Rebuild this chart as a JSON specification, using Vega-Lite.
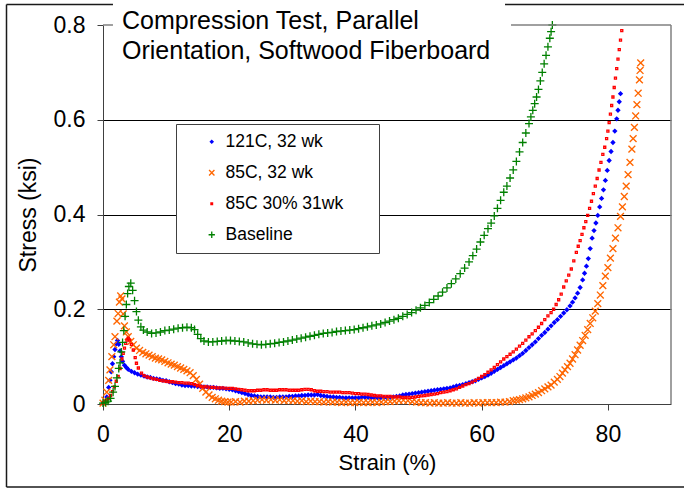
{
  "$schema": "https://vega.github.io/schema/vega-lite/v6.json",
  "width": 568,
  "height": 379,
  "autosize": {"type": "none"},
  "padding": {"left": 103, "top": 25, "right": 13, "bottom": 85},
  "background": "white",
  "config": {"view": {"stroke": null}, "font": "Liberation Sans"},
  "title": {
    "text": ["Compression Test, Parallel", "Orientation, Softwood Fiberboard"],
    "anchor": "start", "frame": "group", "orient": "top", "baseline": "top",
    "offset": -60, "dx": 19, "fontSize": 25, "font": "Liberation Sans",
    "fontWeight": "normal", "color": "black", "lineHeight": 30
  },
  "layer": [
    {
      "data": {"values": [
        {"series":"121C, 32 wk","strain":0,"stress":0.002},{"series":"121C, 32 wk","strain":0.3,"stress":0.005},{"series":"121C, 32 wk","strain":0.6,"stress":0.015},{"series":"121C, 32 wk","strain":0.9,"stress":0.035},{"series":"121C, 32 wk","strain":1.1,"stress":0.05},{"series":"121C, 32 wk","strain":1.3,"stress":0.068},{"series":"121C, 32 wk","strain":1.5,"stress":0.085},{"series":"121C, 32 wk","strain":1.7,"stress":0.1},{"series":"121C, 32 wk","strain":1.9,"stress":0.115},{"series":"121C, 32 wk","strain":2.1,"stress":0.127},{"series":"121C, 32 wk","strain":2.3,"stress":0.134},{"series":"121C, 32 wk","strain":2.5,"stress":0.126},{"series":"121C, 32 wk","strain":2.7,"stress":0.112},{"series":"121C, 32 wk","strain":2.9,"stress":0.1},{"series":"121C, 32 wk","strain":3.1,"stress":0.09},{"series":"121C, 32 wk","strain":3.4,"stress":0.082},{"series":"121C, 32 wk","strain":3.7,"stress":0.077},{"series":"121C, 32 wk","strain":4.0,"stress":0.073},
        {"series":"121C, 32 wk","strain":4.5,"stress":0.069},{"series":"121C, 32 wk","strain":5.0,"stress":0.066},{"series":"121C, 32 wk","strain":5.5,"stress":0.063},{"series":"121C, 32 wk","strain":6.0,"stress":0.061},{"series":"121C, 32 wk","strain":6.5,"stress":0.059},{"series":"121C, 32 wk","strain":7.0,"stress":0.057},{"series":"121C, 32 wk","strain":7.5,"stress":0.056},{"series":"121C, 32 wk","strain":8.0,"stress":0.054},{"series":"121C, 32 wk","strain":8.5,"stress":0.053},{"series":"121C, 32 wk","strain":9.0,"stress":0.052},{"series":"121C, 32 wk","strain":9.5,"stress":0.05},{"series":"121C, 32 wk","strain":10.0,"stress":0.049},{"series":"121C, 32 wk","strain":10.5,"stress":0.047},{"series":"121C, 32 wk","strain":11.0,"stress":0.045},{"series":"121C, 32 wk","strain":11.5,"stress":0.043},{"series":"121C, 32 wk","strain":12.0,"stress":0.042},{"series":"121C, 32 wk","strain":12.5,"stress":0.04},{"series":"121C, 32 wk","strain":13.0,"stress":0.039},{"series":"121C, 32 wk","strain":13.5,"stress":0.039},{"series":"121C, 32 wk","strain":14.0,"stress":0.038},{"series":"121C, 32 wk","strain":14.5,"stress":0.038},{"series":"121C, 32 wk","strain":15.0,"stress":0.037},{"series":"121C, 32 wk","strain":15.5,"stress":0.037},{"series":"121C, 32 wk","strain":16.0,"stress":0.036},{"series":"121C, 32 wk","strain":16.5,"stress":0.036},{"series":"121C, 32 wk","strain":17.0,"stress":0.035},{"series":"121C, 32 wk","strain":17.5,"stress":0.035},{"series":"121C, 32 wk","strain":18.0,"stress":0.034},{"series":"121C, 32 wk","strain":18.5,"stress":0.033},{"series":"121C, 32 wk","strain":19.0,"stress":0.033},{"series":"121C, 32 wk","strain":19.5,"stress":0.032},{"series":"121C, 32 wk","strain":20.0,"stress":0.031},
        {"series":"121C, 32 wk","strain":20.5,"stress":0.03},{"series":"121C, 32 wk","strain":21.0,"stress":0.028},{"series":"121C, 32 wk","strain":21.5,"stress":0.026},{"series":"121C, 32 wk","strain":22.0,"stress":0.024},{"series":"121C, 32 wk","strain":22.5,"stress":0.022},{"series":"121C, 32 wk","strain":23.0,"stress":0.02},{"series":"121C, 32 wk","strain":23.5,"stress":0.018},{"series":"121C, 32 wk","strain":24.0,"stress":0.017},{"series":"121C, 32 wk","strain":24.5,"stress":0.016},{"series":"121C, 32 wk","strain":25.0,"stress":0.015},{"series":"121C, 32 wk","strain":25.5,"stress":0.015},{"series":"121C, 32 wk","strain":26.0,"stress":0.015},{"series":"121C, 32 wk","strain":26.5,"stress":0.015},{"series":"121C, 32 wk","strain":27.0,"stress":0.014},{"series":"121C, 32 wk","strain":27.5,"stress":0.014},{"series":"121C, 32 wk","strain":28.0,"stress":0.015},{"series":"121C, 32 wk","strain":28.5,"stress":0.015},{"series":"121C, 32 wk","strain":29.0,"stress":0.015},{"series":"121C, 32 wk","strain":29.5,"stress":0.016},{"series":"121C, 32 wk","strain":30.0,"stress":0.016},{"series":"121C, 32 wk","strain":30.5,"stress":0.017},{"series":"121C, 32 wk","strain":31.0,"stress":0.017},{"series":"121C, 32 wk","strain":31.5,"stress":0.018},{"series":"121C, 32 wk","strain":32.0,"stress":0.018},{"series":"121C, 32 wk","strain":32.5,"stress":0.019},{"series":"121C, 32 wk","strain":33.0,"stress":0.019},{"series":"121C, 32 wk","strain":33.5,"stress":0.019},{"series":"121C, 32 wk","strain":34.0,"stress":0.02},{"series":"121C, 32 wk","strain":34.5,"stress":0.018},{"series":"121C, 32 wk","strain":35.0,"stress":0.017},{"series":"121C, 32 wk","strain":35.5,"stress":0.016},{"series":"121C, 32 wk","strain":36.0,"stress":0.015},{"series":"121C, 32 wk","strain":36.5,"stress":0.015},{"series":"121C, 32 wk","strain":37.0,"stress":0.014},{"series":"121C, 32 wk","strain":37.5,"stress":0.014},{"series":"121C, 32 wk","strain":38.0,"stress":0.013},{"series":"121C, 32 wk","strain":38.5,"stress":0.013},{"series":"121C, 32 wk","strain":39.0,"stress":0.013},{"series":"121C, 32 wk","strain":39.5,"stress":0.013},{"series":"121C, 32 wk","strain":40.0,"stress":0.013},
        {"series":"121C, 32 wk","strain":40.5,"stress":0.013},{"series":"121C, 32 wk","strain":41.0,"stress":0.014},{"series":"121C, 32 wk","strain":41.5,"stress":0.014},{"series":"121C, 32 wk","strain":42.0,"stress":0.014},{"series":"121C, 32 wk","strain":42.5,"stress":0.013},{"series":"121C, 32 wk","strain":43.0,"stress":0.013},{"series":"121C, 32 wk","strain":43.5,"stress":0.013},{"series":"121C, 32 wk","strain":44.0,"stress":0.013},{"series":"121C, 32 wk","strain":44.5,"stress":0.013},{"series":"121C, 32 wk","strain":45.0,"stress":0.013},{"series":"121C, 32 wk","strain":45.5,"stress":0.014},{"series":"121C, 32 wk","strain":46.0,"stress":0.015},{"series":"121C, 32 wk","strain":46.5,"stress":0.016},{"series":"121C, 32 wk","strain":47.0,"stress":0.017},{"series":"121C, 32 wk","strain":47.5,"stress":0.019},{"series":"121C, 32 wk","strain":48.0,"stress":0.02},{"series":"121C, 32 wk","strain":48.5,"stress":0.021},{"series":"121C, 32 wk","strain":49.0,"stress":0.022},{"series":"121C, 32 wk","strain":49.5,"stress":0.023},{"series":"121C, 32 wk","strain":50.0,"stress":0.024},{"series":"121C, 32 wk","strain":50.5,"stress":0.025},{"series":"121C, 32 wk","strain":51.0,"stress":0.026},{"series":"121C, 32 wk","strain":51.5,"stress":0.027},{"series":"121C, 32 wk","strain":52.0,"stress":0.028},{"series":"121C, 32 wk","strain":52.5,"stress":0.029},{"series":"121C, 32 wk","strain":53.0,"stress":0.03},{"series":"121C, 32 wk","strain":53.5,"stress":0.031},{"series":"121C, 32 wk","strain":54.0,"stress":0.032},{"series":"121C, 32 wk","strain":54.5,"stress":0.033},{"series":"121C, 32 wk","strain":55.0,"stress":0.034},{"series":"121C, 32 wk","strain":55.5,"stress":0.036},{"series":"121C, 32 wk","strain":56.0,"stress":0.038},{"series":"121C, 32 wk","strain":56.5,"stress":0.039},{"series":"121C, 32 wk","strain":57.0,"stress":0.041},{"series":"121C, 32 wk","strain":57.5,"stress":0.043},{"series":"121C, 32 wk","strain":58.0,"stress":0.045},{"series":"121C, 32 wk","strain":58.5,"stress":0.047},{"series":"121C, 32 wk","strain":59.0,"stress":0.049},{"series":"121C, 32 wk","strain":59.5,"stress":0.052},{"series":"121C, 32 wk","strain":60.0,"stress":0.055},
        {"series":"121C, 32 wk","strain":60.5,"stress":0.058},{"series":"121C, 32 wk","strain":61.0,"stress":0.061},{"series":"121C, 32 wk","strain":61.5,"stress":0.065},{"series":"121C, 32 wk","strain":62.0,"stress":0.069},{"series":"121C, 32 wk","strain":62.5,"stress":0.073},{"series":"121C, 32 wk","strain":63.0,"stress":0.077},{"series":"121C, 32 wk","strain":63.5,"stress":0.081},{"series":"121C, 32 wk","strain":64.0,"stress":0.085},{"series":"121C, 32 wk","strain":64.5,"stress":0.089},{"series":"121C, 32 wk","strain":65.0,"stress":0.093},{"series":"121C, 32 wk","strain":65.5,"stress":0.097},{"series":"121C, 32 wk","strain":66.0,"stress":0.102},{"series":"121C, 32 wk","strain":66.5,"stress":0.107},{"series":"121C, 32 wk","strain":67.0,"stress":0.113},{"series":"121C, 32 wk","strain":67.5,"stress":0.119},{"series":"121C, 32 wk","strain":68.0,"stress":0.125},{"series":"121C, 32 wk","strain":68.5,"stress":0.131},{"series":"121C, 32 wk","strain":69.0,"stress":0.138},{"series":"121C, 32 wk","strain":69.5,"stress":0.145},{"series":"121C, 32 wk","strain":70.0,"stress":0.151},{"series":"121C, 32 wk","strain":70.5,"stress":0.158},{"series":"121C, 32 wk","strain":71.0,"stress":0.165},{"series":"121C, 32 wk","strain":71.5,"stress":0.172},{"series":"121C, 32 wk","strain":72.0,"stress":0.178},{"series":"121C, 32 wk","strain":72.5,"stress":0.185},{"series":"121C, 32 wk","strain":73.0,"stress":0.192},{"series":"121C, 32 wk","strain":73.5,"stress":0.199},{"series":"121C, 32 wk","strain":74.0,"stress":0.207},{"series":"121C, 32 wk","strain":74.4,"stress":0.215},{"series":"121C, 32 wk","strain":74.8,"stress":0.224},{"series":"121C, 32 wk","strain":75.2,"stress":0.234},{"series":"121C, 32 wk","strain":75.6,"stress":0.246},{"series":"121C, 32 wk","strain":76.0,"stress":0.262},{"series":"121C, 32 wk","strain":76.3,"stress":0.276},{"series":"121C, 32 wk","strain":76.6,"stress":0.291},{"series":"121C, 32 wk","strain":76.9,"stress":0.307},{"series":"121C, 32 wk","strain":77.2,"stress":0.328},{"series":"121C, 32 wk","strain":77.5,"stress":0.35},{"series":"121C, 32 wk","strain":77.8,"stress":0.366},{"series":"121C, 32 wk","strain":78.1,"stress":0.382},{"series":"121C, 32 wk","strain":78.4,"stress":0.398},{"series":"121C, 32 wk","strain":78.7,"stress":0.416},{"series":"121C, 32 wk","strain":79.0,"stress":0.434},{"series":"121C, 32 wk","strain":79.3,"stress":0.452},{"series":"121C, 32 wk","strain":79.6,"stress":0.472},{"series":"121C, 32 wk","strain":79.9,"stress":0.493},{"series":"121C, 32 wk","strain":80.2,"stress":0.514},{"series":"121C, 32 wk","strain":80.5,"stress":0.533},{"series":"121C, 32 wk","strain":80.8,"stress":0.552},{"series":"121C, 32 wk","strain":81.1,"stress":0.576},{"series":"121C, 32 wk","strain":81.4,"stress":0.602},{"series":"121C, 32 wk","strain":81.6,"stress":0.62},{"series":"121C, 32 wk","strain":81.8,"stress":0.638},{"series":"121C, 32 wk","strain":82.0,"stress":0.655},

        {"series":"85C, 32 wk","strain":0,"stress":0.002},{"series":"85C, 32 wk","strain":0.3,"stress":0.008},{"series":"85C, 32 wk","strain":0.6,"stress":0.025},{"series":"85C, 32 wk","strain":0.9,"stress":0.05},{"series":"85C, 32 wk","strain":1.1,"stress":0.072},{"series":"85C, 32 wk","strain":1.4,"stress":0.1},{"series":"85C, 32 wk","strain":1.7,"stress":0.125},{"series":"85C, 32 wk","strain":1.9,"stress":0.142},{"series":"85C, 32 wk","strain":2.2,"stress":0.175},{"series":"85C, 32 wk","strain":2.4,"stress":0.191},{"series":"85C, 32 wk","strain":2.6,"stress":0.215},{"series":"85C, 32 wk","strain":2.8,"stress":0.228},{"series":"85C, 32 wk","strain":3.0,"stress":0.222},{"series":"85C, 32 wk","strain":3.2,"stress":0.19},{"series":"85C, 32 wk","strain":3.4,"stress":0.165},{"series":"85C, 32 wk","strain":3.7,"stress":0.152},{"series":"85C, 32 wk","strain":4.0,"stress":0.142},{"series":"85C, 32 wk","strain":4.4,"stress":0.132},{"series":"85C, 32 wk","strain":4.8,"stress":0.125},{"series":"85C, 32 wk","strain":5.3,"stress":0.118},{"series":"85C, 32 wk","strain":5.8,"stress":0.113},{"series":"85C, 32 wk","strain":6.3,"stress":0.109},{"series":"85C, 32 wk","strain":6.8,"stress":0.106},{"series":"85C, 32 wk","strain":7.3,"stress":0.103},{"series":"85C, 32 wk","strain":7.8,"stress":0.1},{"series":"85C, 32 wk","strain":8.3,"stress":0.097},{"series":"85C, 32 wk","strain":8.8,"stress":0.095},{"series":"85C, 32 wk","strain":9.3,"stress":0.093},{"series":"85C, 32 wk","strain":9.8,"stress":0.09},{"series":"85C, 32 wk","strain":10.3,"stress":0.087},{"series":"85C, 32 wk","strain":10.8,"stress":0.084},{"series":"85C, 32 wk","strain":11.3,"stress":0.082},{"series":"85C, 32 wk","strain":11.8,"stress":0.079},{"series":"85C, 32 wk","strain":12.3,"stress":0.076},{"series":"85C, 32 wk","strain":12.8,"stress":0.073},{"series":"85C, 32 wk","strain":13.3,"stress":0.07},{"series":"85C, 32 wk","strain":13.8,"stress":0.066},{"series":"85C, 32 wk","strain":14.3,"stress":0.06},{"series":"85C, 32 wk","strain":14.8,"stress":0.052},{"series":"85C, 32 wk","strain":15.3,"stress":0.042},{"series":"85C, 32 wk","strain":15.8,"stress":0.033},{"series":"85C, 32 wk","strain":16.3,"stress":0.025},{"series":"85C, 32 wk","strain":16.8,"stress":0.019},{"series":"85C, 32 wk","strain":17.3,"stress":0.014},{"series":"85C, 32 wk","strain":17.8,"stress":0.011},{"series":"85C, 32 wk","strain":18.3,"stress":0.008},{"series":"85C, 32 wk","strain":18.8,"stress":0.006},{"series":"85C, 32 wk","strain":19.3,"stress":0.005},{"series":"85C, 32 wk","strain":19.8,"stress":0.004},
        {"series":"85C, 32 wk","strain":20.3,"stress":0.004},{"series":"85C, 32 wk","strain":21.0,"stress":0.005},{"series":"85C, 32 wk","strain":21.7,"stress":0.004},{"series":"85C, 32 wk","strain":22.4,"stress":0.006},{"series":"85C, 32 wk","strain":23.1,"stress":0.006},{"series":"85C, 32 wk","strain":23.8,"stress":0.007},{"series":"85C, 32 wk","strain":24.5,"stress":0.008},{"series":"85C, 32 wk","strain":25.2,"stress":0.009},{"series":"85C, 32 wk","strain":25.9,"stress":0.008},{"series":"85C, 32 wk","strain":26.6,"stress":0.009},{"series":"85C, 32 wk","strain":27.3,"stress":0.008},{"series":"85C, 32 wk","strain":28.0,"stress":0.009},{"series":"85C, 32 wk","strain":28.7,"stress":0.007},{"series":"85C, 32 wk","strain":29.4,"stress":0.008},{"series":"85C, 32 wk","strain":30.1,"stress":0.007},{"series":"85C, 32 wk","strain":30.8,"stress":0.006},{"series":"85C, 32 wk","strain":31.5,"stress":0.007},{"series":"85C, 32 wk","strain":32.2,"stress":0.005},{"series":"85C, 32 wk","strain":32.9,"stress":0.006},{"series":"85C, 32 wk","strain":33.6,"stress":0.005},{"series":"85C, 32 wk","strain":34.3,"stress":0.005},{"series":"85C, 32 wk","strain":35.0,"stress":0.004},{"series":"85C, 32 wk","strain":35.7,"stress":0.005},{"series":"85C, 32 wk","strain":36.4,"stress":0.004},{"series":"85C, 32 wk","strain":37.1,"stress":0.004},{"series":"85C, 32 wk","strain":37.8,"stress":0.003},{"series":"85C, 32 wk","strain":38.5,"stress":0.004},{"series":"85C, 32 wk","strain":39.2,"stress":0.003},{"series":"85C, 32 wk","strain":39.9,"stress":0.003},{"series":"85C, 32 wk","strain":40.6,"stress":0.004},{"series":"85C, 32 wk","strain":41.3,"stress":0.003},{"series":"85C, 32 wk","strain":42.0,"stress":0.003},{"series":"85C, 32 wk","strain":42.7,"stress":0.004},{"series":"85C, 32 wk","strain":43.4,"stress":0.003},{"series":"85C, 32 wk","strain":44.1,"stress":0.004},{"series":"85C, 32 wk","strain":44.8,"stress":0.005},{"series":"85C, 32 wk","strain":45.5,"stress":0.005},{"series":"85C, 32 wk","strain":46.2,"stress":0.006},{"series":"85C, 32 wk","strain":46.9,"stress":0.007},{"series":"85C, 32 wk","strain":47.6,"stress":0.008},{"series":"85C, 32 wk","strain":48.3,"stress":0.007},{"series":"85C, 32 wk","strain":49.0,"stress":0.005},{"series":"85C, 32 wk","strain":49.7,"stress":0.004},{"series":"85C, 32 wk","strain":50.4,"stress":0.003},{"series":"85C, 32 wk","strain":51.1,"stress":0.003},{"series":"85C, 32 wk","strain":51.8,"stress":0.002},{"series":"85C, 32 wk","strain":52.5,"stress":0.003},{"series":"85C, 32 wk","strain":53.2,"stress":0.002},{"series":"85C, 32 wk","strain":53.9,"stress":0.002},{"series":"85C, 32 wk","strain":54.6,"stress":0.003},{"series":"85C, 32 wk","strain":55.3,"stress":0.002},{"series":"85C, 32 wk","strain":56.0,"stress":0.002},{"series":"85C, 32 wk","strain":56.7,"stress":0.003},{"series":"85C, 32 wk","strain":57.4,"stress":0.002},{"series":"85C, 32 wk","strain":58.1,"stress":0.002},{"series":"85C, 32 wk","strain":58.8,"stress":0.003},{"series":"85C, 32 wk","strain":59.5,"stress":0.002},{"series":"85C, 32 wk","strain":60.2,"stress":0.003},{"series":"85C, 32 wk","strain":60.9,"stress":0.003},{"series":"85C, 32 wk","strain":61.6,"stress":0.003},{"series":"85C, 32 wk","strain":62.3,"stress":0.003},{"series":"85C, 32 wk","strain":63.0,"stress":0.004},{"series":"85C, 32 wk","strain":63.7,"stress":0.004},{"series":"85C, 32 wk","strain":64.4,"stress":0.005},
        {"series":"85C, 32 wk","strain":65.0,"stress":0.007},{"series":"85C, 32 wk","strain":65.5,"stress":0.008},{"series":"85C, 32 wk","strain":66.0,"stress":0.009},{"series":"85C, 32 wk","strain":66.5,"stress":0.011},{"series":"85C, 32 wk","strain":67.0,"stress":0.013},{"series":"85C, 32 wk","strain":67.5,"stress":0.015},{"series":"85C, 32 wk","strain":68.0,"stress":0.018},{"series":"85C, 32 wk","strain":68.5,"stress":0.021},{"series":"85C, 32 wk","strain":69.0,"stress":0.024},{"series":"85C, 32 wk","strain":69.5,"stress":0.028},{"series":"85C, 32 wk","strain":70.0,"stress":0.032},{"series":"85C, 32 wk","strain":70.5,"stress":0.036},{"series":"85C, 32 wk","strain":71.0,"stress":0.04},{"series":"85C, 32 wk","strain":71.5,"stress":0.046},{"series":"85C, 32 wk","strain":72.0,"stress":0.052},{"series":"85C, 32 wk","strain":72.4,"stress":0.058},{"series":"85C, 32 wk","strain":72.8,"stress":0.065},{"series":"85C, 32 wk","strain":73.2,"stress":0.072},{"series":"85C, 32 wk","strain":73.6,"stress":0.079},{"series":"85C, 32 wk","strain":74.0,"stress":0.086},{"series":"85C, 32 wk","strain":74.4,"stress":0.095},{"series":"85C, 32 wk","strain":74.8,"stress":0.104},{"series":"85C, 32 wk","strain":75.2,"stress":0.114},{"series":"85C, 32 wk","strain":75.6,"stress":0.124},{"series":"85C, 32 wk","strain":76.0,"stress":0.134},{"series":"85C, 32 wk","strain":76.4,"stress":0.145},{"series":"85C, 32 wk","strain":76.8,"stress":0.157},{"series":"85C, 32 wk","strain":77.2,"stress":0.17},{"series":"85C, 32 wk","strain":77.6,"stress":0.182},{"series":"85C, 32 wk","strain":78.0,"stress":0.196},{"series":"85C, 32 wk","strain":78.4,"stress":0.212},{"series":"85C, 32 wk","strain":78.8,"stress":0.23},{"series":"85C, 32 wk","strain":79.2,"stress":0.25},{"series":"85C, 32 wk","strain":79.6,"stress":0.27},{"series":"85C, 32 wk","strain":80.0,"stress":0.288},{"series":"85C, 32 wk","strain":80.4,"stress":0.308},{"series":"85C, 32 wk","strain":80.8,"stress":0.328},{"series":"85C, 32 wk","strain":81.2,"stress":0.35},{"series":"85C, 32 wk","strain":81.6,"stress":0.372},{"series":"85C, 32 wk","strain":82.0,"stress":0.396},{"series":"85C, 32 wk","strain":82.3,"stress":0.416},{"series":"85C, 32 wk","strain":82.6,"stress":0.438},{"series":"85C, 32 wk","strain":82.9,"stress":0.46},{"series":"85C, 32 wk","strain":83.2,"stress":0.484},{"series":"85C, 32 wk","strain":83.5,"stress":0.51},{"series":"85C, 32 wk","strain":83.8,"stress":0.538},{"series":"85C, 32 wk","strain":84.0,"stress":0.56},{"series":"85C, 32 wk","strain":84.2,"stress":0.584},{"series":"85C, 32 wk","strain":84.4,"stress":0.608},{"series":"85C, 32 wk","strain":84.6,"stress":0.632},{"series":"85C, 32 wk","strain":84.8,"stress":0.656},{"series":"85C, 32 wk","strain":85.0,"stress":0.684},{"series":"85C, 32 wk","strain":85.1,"stress":0.704},{"series":"85C, 32 wk","strain":85.2,"stress":0.72},

        {"series":"85C 30% 31wk","strain":0,"stress":0.002},{"series":"85C 30% 31wk","strain":0.3,"stress":0.005},{"series":"85C 30% 31wk","strain":0.6,"stress":0.008},{"series":"85C 30% 31wk","strain":0.9,"stress":0.012},{"series":"85C 30% 31wk","strain":1.2,"stress":0.018},{"series":"85C 30% 31wk","strain":1.5,"stress":0.026},{"series":"85C 30% 31wk","strain":1.8,"stress":0.036},{"series":"85C 30% 31wk","strain":2.1,"stress":0.048},{"series":"85C 30% 31wk","strain":2.4,"stress":0.058},{"series":"85C 30% 31wk","strain":2.7,"stress":0.075},{"series":"85C 30% 31wk","strain":3.0,"stress":0.095},{"series":"85C 30% 31wk","strain":3.2,"stress":0.107},{"series":"85C 30% 31wk","strain":3.4,"stress":0.118},{"series":"85C 30% 31wk","strain":3.6,"stress":0.128},{"series":"85C 30% 31wk","strain":3.8,"stress":0.135},{"series":"85C 30% 31wk","strain":4.0,"stress":0.139},{"series":"85C 30% 31wk","strain":4.2,"stress":0.135},{"series":"85C 30% 31wk","strain":4.5,"stress":0.126},{"series":"85C 30% 31wk","strain":4.8,"stress":0.114},{"series":"85C 30% 31wk","strain":5.1,"stress":0.098},{"series":"85C 30% 31wk","strain":5.3,"stress":0.086},{"series":"85C 30% 31wk","strain":5.6,"stress":0.076},{"series":"85C 30% 31wk","strain":6.1,"stress":0.065},{"series":"85C 30% 31wk","strain":6.5,"stress":0.06},{"series":"85C 30% 31wk","strain":7.0,"stress":0.057},{"series":"85C 30% 31wk","strain":7.5,"stress":0.055},{"series":"85C 30% 31wk","strain":8.0,"stress":0.053},{"series":"85C 30% 31wk","strain":8.5,"stress":0.052},{"series":"85C 30% 31wk","strain":9.0,"stress":0.05},{"series":"85C 30% 31wk","strain":9.5,"stress":0.049},{"series":"85C 30% 31wk","strain":10.0,"stress":0.048},{"series":"85C 30% 31wk","strain":10.5,"stress":0.047},{"series":"85C 30% 31wk","strain":11.0,"stress":0.047},{"series":"85C 30% 31wk","strain":11.5,"stress":0.046},{"series":"85C 30% 31wk","strain":12.0,"stress":0.045},{"series":"85C 30% 31wk","strain":12.5,"stress":0.045},{"series":"85C 30% 31wk","strain":13.0,"stress":0.044},{"series":"85C 30% 31wk","strain":13.5,"stress":0.044},{"series":"85C 30% 31wk","strain":14.0,"stress":0.043},{"series":"85C 30% 31wk","strain":14.5,"stress":0.041},{"series":"85C 30% 31wk","strain":15.0,"stress":0.039},{"series":"85C 30% 31wk","strain":15.5,"stress":0.037},{"series":"85C 30% 31wk","strain":16.0,"stress":0.036},{"series":"85C 30% 31wk","strain":16.5,"stress":0.036},{"series":"85C 30% 31wk","strain":17.0,"stress":0.035},{"series":"85C 30% 31wk","strain":17.5,"stress":0.035},{"series":"85C 30% 31wk","strain":18.0,"stress":0.034},{"series":"85C 30% 31wk","strain":18.5,"stress":0.034},{"series":"85C 30% 31wk","strain":19.0,"stress":0.034},{"series":"85C 30% 31wk","strain":19.5,"stress":0.033},{"series":"85C 30% 31wk","strain":20.0,"stress":0.033},
        {"series":"85C 30% 31wk","strain":20.5,"stress":0.033},{"series":"85C 30% 31wk","strain":21.0,"stress":0.032},{"series":"85C 30% 31wk","strain":21.5,"stress":0.031},{"series":"85C 30% 31wk","strain":22.0,"stress":0.03},{"series":"85C 30% 31wk","strain":22.5,"stress":0.029},{"series":"85C 30% 31wk","strain":23.0,"stress":0.028},{"series":"85C 30% 31wk","strain":23.5,"stress":0.028},{"series":"85C 30% 31wk","strain":24.0,"stress":0.028},{"series":"85C 30% 31wk","strain":24.5,"stress":0.029},{"series":"85C 30% 31wk","strain":25.0,"stress":0.029},{"series":"85C 30% 31wk","strain":25.5,"stress":0.03},{"series":"85C 30% 31wk","strain":26.0,"stress":0.03},{"series":"85C 30% 31wk","strain":26.5,"stress":0.029},{"series":"85C 30% 31wk","strain":27.0,"stress":0.029},{"series":"85C 30% 31wk","strain":27.5,"stress":0.029},{"series":"85C 30% 31wk","strain":28.0,"stress":0.03},{"series":"85C 30% 31wk","strain":28.5,"stress":0.03},{"series":"85C 30% 31wk","strain":29.0,"stress":0.03},{"series":"85C 30% 31wk","strain":29.5,"stress":0.029},{"series":"85C 30% 31wk","strain":30.0,"stress":0.029},{"series":"85C 30% 31wk","strain":30.5,"stress":0.029},{"series":"85C 30% 31wk","strain":31.0,"stress":0.029},{"series":"85C 30% 31wk","strain":31.5,"stress":0.03},{"series":"85C 30% 31wk","strain":32.0,"stress":0.031},{"series":"85C 30% 31wk","strain":32.5,"stress":0.031},{"series":"85C 30% 31wk","strain":33.0,"stress":0.03},{"series":"85C 30% 31wk","strain":33.5,"stress":0.028},{"series":"85C 30% 31wk","strain":34.0,"stress":0.027},{"series":"85C 30% 31wk","strain":34.5,"stress":0.027},{"series":"85C 30% 31wk","strain":35.0,"stress":0.026},{"series":"85C 30% 31wk","strain":35.5,"stress":0.026},{"series":"85C 30% 31wk","strain":36.0,"stress":0.025},{"series":"85C 30% 31wk","strain":36.5,"stress":0.025},{"series":"85C 30% 31wk","strain":37.0,"stress":0.025},{"series":"85C 30% 31wk","strain":37.5,"stress":0.025},{"series":"85C 30% 31wk","strain":38.0,"stress":0.024},{"series":"85C 30% 31wk","strain":38.5,"stress":0.024},{"series":"85C 30% 31wk","strain":39.0,"stress":0.024},{"series":"85C 30% 31wk","strain":39.5,"stress":0.023},{"series":"85C 30% 31wk","strain":40.0,"stress":0.022},
        {"series":"85C 30% 31wk","strain":40.5,"stress":0.022},{"series":"85C 30% 31wk","strain":41.0,"stress":0.021},{"series":"85C 30% 31wk","strain":41.5,"stress":0.021},{"series":"85C 30% 31wk","strain":42.0,"stress":0.02},{"series":"85C 30% 31wk","strain":42.5,"stress":0.019},{"series":"85C 30% 31wk","strain":43.0,"stress":0.018},{"series":"85C 30% 31wk","strain":43.5,"stress":0.017},{"series":"85C 30% 31wk","strain":44.0,"stress":0.017},{"series":"85C 30% 31wk","strain":44.5,"stress":0.016},{"series":"85C 30% 31wk","strain":45.0,"stress":0.016},{"series":"85C 30% 31wk","strain":45.5,"stress":0.016},{"series":"85C 30% 31wk","strain":46.0,"stress":0.015},{"series":"85C 30% 31wk","strain":46.5,"stress":0.015},{"series":"85C 30% 31wk","strain":47.0,"stress":0.015},{"series":"85C 30% 31wk","strain":47.5,"stress":0.014},{"series":"85C 30% 31wk","strain":48.0,"stress":0.014},{"series":"85C 30% 31wk","strain":48.5,"stress":0.014},{"series":"85C 30% 31wk","strain":49.0,"stress":0.014},{"series":"85C 30% 31wk","strain":49.5,"stress":0.015},{"series":"85C 30% 31wk","strain":50.0,"stress":0.016},{"series":"85C 30% 31wk","strain":50.5,"stress":0.017},{"series":"85C 30% 31wk","strain":51.0,"stress":0.018},{"series":"85C 30% 31wk","strain":51.5,"stress":0.019},{"series":"85C 30% 31wk","strain":52.0,"stress":0.02},{"series":"85C 30% 31wk","strain":52.5,"stress":0.021},{"series":"85C 30% 31wk","strain":53.0,"stress":0.022},{"series":"85C 30% 31wk","strain":53.5,"stress":0.024},{"series":"85C 30% 31wk","strain":54.0,"stress":0.025},{"series":"85C 30% 31wk","strain":54.5,"stress":0.026},{"series":"85C 30% 31wk","strain":55.0,"stress":0.028},{"series":"85C 30% 31wk","strain":55.5,"stress":0.03},{"series":"85C 30% 31wk","strain":56.0,"stress":0.032},{"series":"85C 30% 31wk","strain":56.5,"stress":0.035},{"series":"85C 30% 31wk","strain":57.0,"stress":0.038},{"series":"85C 30% 31wk","strain":57.5,"stress":0.041},{"series":"85C 30% 31wk","strain":58.0,"stress":0.043},{"series":"85C 30% 31wk","strain":58.5,"stress":0.046},{"series":"85C 30% 31wk","strain":59.0,"stress":0.05},{"series":"85C 30% 31wk","strain":59.5,"stress":0.054},{"series":"85C 30% 31wk","strain":60.0,"stress":0.058},
        {"series":"85C 30% 31wk","strain":60.5,"stress":0.062},{"series":"85C 30% 31wk","strain":61.0,"stress":0.067},{"series":"85C 30% 31wk","strain":61.5,"stress":0.072},{"series":"85C 30% 31wk","strain":62.0,"stress":0.077},{"series":"85C 30% 31wk","strain":62.5,"stress":0.083},{"series":"85C 30% 31wk","strain":63.0,"stress":0.089},{"series":"85C 30% 31wk","strain":63.5,"stress":0.095},{"series":"85C 30% 31wk","strain":64.0,"stress":0.1},{"series":"85C 30% 31wk","strain":64.5,"stress":0.105},{"series":"85C 30% 31wk","strain":65.0,"stress":0.11},{"series":"85C 30% 31wk","strain":65.5,"stress":0.116},{"series":"85C 30% 31wk","strain":66.0,"stress":0.122},{"series":"85C 30% 31wk","strain":66.5,"stress":0.128},{"series":"85C 30% 31wk","strain":67.0,"stress":0.135},{"series":"85C 30% 31wk","strain":67.5,"stress":0.142},{"series":"85C 30% 31wk","strain":68.0,"stress":0.148},{"series":"85C 30% 31wk","strain":68.5,"stress":0.155},{"series":"85C 30% 31wk","strain":69.0,"stress":0.162},{"series":"85C 30% 31wk","strain":69.5,"stress":0.17},{"series":"85C 30% 31wk","strain":70.0,"stress":0.178},{"series":"85C 30% 31wk","strain":70.5,"stress":0.186},{"series":"85C 30% 31wk","strain":71.0,"stress":0.193},{"series":"85C 30% 31wk","strain":71.4,"stress":0.2},{"series":"85C 30% 31wk","strain":71.8,"stress":0.21},{"series":"85C 30% 31wk","strain":72.2,"stress":0.22},{"series":"85C 30% 31wk","strain":72.6,"stress":0.232},{"series":"85C 30% 31wk","strain":73.0,"stress":0.247},{"series":"85C 30% 31wk","strain":73.4,"stress":0.26},{"series":"85C 30% 31wk","strain":73.8,"stress":0.272},{"series":"85C 30% 31wk","strain":74.2,"stress":0.285},{"series":"85C 30% 31wk","strain":74.6,"stress":0.302},{"series":"85C 30% 31wk","strain":75.0,"stress":0.32},{"series":"85C 30% 31wk","strain":75.3,"stress":0.333},{"series":"85C 30% 31wk","strain":75.6,"stress":0.345},{"series":"85C 30% 31wk","strain":75.9,"stress":0.358},{"series":"85C 30% 31wk","strain":76.2,"stress":0.372},{"series":"85C 30% 31wk","strain":76.5,"stress":0.385},{"series":"85C 30% 31wk","strain":76.8,"stress":0.398},{"series":"85C 30% 31wk","strain":77.1,"stress":0.413},{"series":"85C 30% 31wk","strain":77.4,"stress":0.428},{"series":"85C 30% 31wk","strain":77.7,"stress":0.444},{"series":"85C 30% 31wk","strain":78.0,"stress":0.46},{"series":"85C 30% 31wk","strain":78.3,"stress":0.476},{"series":"85C 30% 31wk","strain":78.6,"stress":0.494},{"series":"85C 30% 31wk","strain":78.9,"stress":0.51},{"series":"85C 30% 31wk","strain":79.2,"stress":0.527},{"series":"85C 30% 31wk","strain":79.5,"stress":0.542},{"series":"85C 30% 31wk","strain":79.8,"stress":0.56},{"series":"85C 30% 31wk","strain":80.0,"stress":0.576},{"series":"85C 30% 31wk","strain":80.2,"stress":0.594},{"series":"85C 30% 31wk","strain":80.4,"stress":0.612},{"series":"85C 30% 31wk","strain":80.6,"stress":0.63},{"series":"85C 30% 31wk","strain":80.8,"stress":0.648},{"series":"85C 30% 31wk","strain":81.0,"stress":0.668},{"series":"85C 30% 31wk","strain":81.2,"stress":0.688},{"series":"85C 30% 31wk","strain":81.4,"stress":0.708},{"series":"85C 30% 31wk","strain":81.6,"stress":0.728},{"series":"85C 30% 31wk","strain":81.8,"stress":0.748},{"series":"85C 30% 31wk","strain":82.0,"stress":0.768},{"series":"85C 30% 31wk","strain":82.2,"stress":0.788},

        {"series":"Baseline","strain":0,"stress":0.002},{"series":"Baseline","strain":0.4,"stress":0.003},{"series":"Baseline","strain":0.8,"stress":0.006},{"series":"Baseline","strain":1.2,"stress":0.012},{"series":"Baseline","strain":1.6,"stress":0.025},{"series":"Baseline","strain":1.9,"stress":0.037},{"series":"Baseline","strain":2.2,"stress":0.055},{"series":"Baseline","strain":2.5,"stress":0.075},{"series":"Baseline","strain":2.7,"stress":0.087},{"series":"Baseline","strain":2.9,"stress":0.11},{"series":"Baseline","strain":3.1,"stress":0.13},{"series":"Baseline","strain":3.3,"stress":0.155},{"series":"Baseline","strain":3.5,"stress":0.185},{"series":"Baseline","strain":3.7,"stress":0.21},{"series":"Baseline","strain":3.9,"stress":0.233},{"series":"Baseline","strain":4.1,"stress":0.248},{"series":"Baseline","strain":4.4,"stress":0.255},{"series":"Baseline","strain":4.7,"stress":0.24},{"series":"Baseline","strain":5.0,"stress":0.218},{"series":"Baseline","strain":5.3,"stress":0.195},{"series":"Baseline","strain":5.6,"stress":0.177},{"series":"Baseline","strain":6.0,"stress":0.163},{"series":"Baseline","strain":6.4,"stress":0.156},{"series":"Baseline","strain":7.0,"stress":0.152},{"series":"Baseline","strain":7.7,"stress":0.149},{"series":"Baseline","strain":8.4,"stress":0.15},{"series":"Baseline","strain":9.1,"stress":0.152},{"series":"Baseline","strain":9.8,"stress":0.155},{"series":"Baseline","strain":10.5,"stress":0.156},{"series":"Baseline","strain":11.2,"stress":0.158},{"series":"Baseline","strain":11.9,"stress":0.16},{"series":"Baseline","strain":12.6,"stress":0.161},{"series":"Baseline","strain":13.3,"stress":0.162},{"series":"Baseline","strain":14.0,"stress":0.161},{"series":"Baseline","strain":14.5,"stress":0.157},{"series":"Baseline","strain":15.0,"stress":0.147},{"series":"Baseline","strain":15.5,"stress":0.138},{"series":"Baseline","strain":16.0,"stress":0.133},{"series":"Baseline","strain":16.7,"stress":0.131},{"series":"Baseline","strain":17.4,"stress":0.131},{"series":"Baseline","strain":18.1,"stress":0.132},{"series":"Baseline","strain":18.8,"stress":0.133},{"series":"Baseline","strain":19.5,"stress":0.134},{"series":"Baseline","strain":20.2,"stress":0.134},{"series":"Baseline","strain":20.9,"stress":0.133},{"series":"Baseline","strain":21.6,"stress":0.132},{"series":"Baseline","strain":22.3,"stress":0.131},{"series":"Baseline","strain":23.0,"stress":0.129},{"series":"Baseline","strain":23.7,"stress":0.127},{"series":"Baseline","strain":24.4,"stress":0.126},{"series":"Baseline","strain":25.1,"stress":0.125},{"series":"Baseline","strain":25.8,"stress":0.126},{"series":"Baseline","strain":26.5,"stress":0.127},{"series":"Baseline","strain":27.2,"stress":0.128},{"series":"Baseline","strain":27.9,"stress":0.13},{"series":"Baseline","strain":28.6,"stress":0.131},{"series":"Baseline","strain":29.3,"stress":0.133},{"series":"Baseline","strain":30.0,"stress":0.135},
        {"series":"Baseline","strain":30.7,"stress":0.137},{"series":"Baseline","strain":31.4,"stress":0.139},{"series":"Baseline","strain":32.1,"stress":0.141},{"series":"Baseline","strain":32.8,"stress":0.143},{"series":"Baseline","strain":33.5,"stress":0.145},{"series":"Baseline","strain":34.2,"stress":0.147},{"series":"Baseline","strain":34.9,"stress":0.149},{"series":"Baseline","strain":35.6,"stress":0.15},{"series":"Baseline","strain":36.3,"stress":0.151},{"series":"Baseline","strain":37.0,"stress":0.153},{"series":"Baseline","strain":37.7,"stress":0.154},{"series":"Baseline","strain":38.4,"stress":0.155},{"series":"Baseline","strain":39.1,"stress":0.156},{"series":"Baseline","strain":39.8,"stress":0.157},{"series":"Baseline","strain":40.5,"stress":0.159},{"series":"Baseline","strain":41.2,"stress":0.161},{"series":"Baseline","strain":41.9,"stress":0.163},{"series":"Baseline","strain":42.6,"stress":0.165},{"series":"Baseline","strain":43.3,"stress":0.167},{"series":"Baseline","strain":44.0,"stress":0.169},{"series":"Baseline","strain":44.7,"stress":0.172},{"series":"Baseline","strain":45.4,"stress":0.175},{"series":"Baseline","strain":46.1,"stress":0.178},{"series":"Baseline","strain":46.8,"stress":0.181},{"series":"Baseline","strain":47.5,"stress":0.185},{"series":"Baseline","strain":48.2,"stress":0.189},{"series":"Baseline","strain":48.9,"stress":0.193},{"series":"Baseline","strain":49.6,"stress":0.198},{"series":"Baseline","strain":50.3,"stress":0.203},{"series":"Baseline","strain":51.0,"stress":0.208},{"series":"Baseline","strain":51.7,"stress":0.214},{"series":"Baseline","strain":52.4,"stress":0.221},{"series":"Baseline","strain":53.1,"stress":0.228},{"series":"Baseline","strain":53.8,"stress":0.236},{"series":"Baseline","strain":54.5,"stress":0.245},{"series":"Baseline","strain":55.2,"stress":0.254},{"series":"Baseline","strain":55.9,"stress":0.264},{"series":"Baseline","strain":56.6,"stress":0.275},{"series":"Baseline","strain":57.3,"stress":0.287},{"series":"Baseline","strain":58.0,"stress":0.3},{"series":"Baseline","strain":58.6,"stress":0.313},{"series":"Baseline","strain":59.2,"stress":0.327},{"series":"Baseline","strain":59.8,"stress":0.342},{"series":"Baseline","strain":60.4,"stress":0.356},{"series":"Baseline","strain":61.0,"stress":0.37},{"series":"Baseline","strain":61.5,"stress":0.382},{"series":"Baseline","strain":62.0,"stress":0.397},{"series":"Baseline","strain":62.5,"stress":0.413},{"series":"Baseline","strain":63.0,"stress":0.43},{"series":"Baseline","strain":63.5,"stress":0.447},{"series":"Baseline","strain":64.0,"stress":0.46},{"series":"Baseline","strain":64.5,"stress":0.477},{"series":"Baseline","strain":65.0,"stress":0.494},{"series":"Baseline","strain":65.5,"stress":0.512},{"series":"Baseline","strain":66.0,"stress":0.532},{"series":"Baseline","strain":66.5,"stress":0.552},{"series":"Baseline","strain":67.0,"stress":0.572},{"series":"Baseline","strain":67.5,"stress":0.592},{"series":"Baseline","strain":67.8,"stress":0.606},{"series":"Baseline","strain":68.1,"stress":0.62},{"series":"Baseline","strain":68.4,"stress":0.634},{"series":"Baseline","strain":68.7,"stress":0.648},{"series":"Baseline","strain":69.0,"stress":0.664},{"series":"Baseline","strain":69.3,"stress":0.682},{"series":"Baseline","strain":69.6,"stress":0.7},{"series":"Baseline","strain":69.9,"stress":0.718},{"series":"Baseline","strain":70.2,"stress":0.736},{"series":"Baseline","strain":70.5,"stress":0.754},{"series":"Baseline","strain":70.8,"stress":0.772},{"series":"Baseline","strain":71.0,"stress":0.786},{"series":"Baseline","strain":71.2,"stress":0.8}
      ]},
      "mark": {"type": "point", "filled": false, "size": 64, "opacity": 1},
      "encoding": {
        "x": {
          "field": "strain", "type": "quantitative",
          "scale": {"domain": [0, 90], "nice": false},
          "axis": {
            "title": "Strain (%)", "values": [0, 20, 40, 60, 80], "grid": false, "labelFlush": false,
            "domainColor": "#404040", "tickColor": "#404040", "tickSize": 6,
            "labelFontSize": 23, "labelColor": "black", "labelFont": "Liberation Sans", "labelPadding": 13,
            "titleFontSize": 22, "titleFontWeight": "normal", "titleColor": "black", "titleFont": "Liberation Sans", "titlePadding": 6
          }
        },
        "y": {
          "field": "stress", "type": "quantitative",
          "scale": {"domain": [0, 0.8], "nice": false},
          "axis": {
            "title": "Stress (ksi)", "values": [0, 0.2, 0.4, 0.6, 0.8], "format": "~g", "labelFlush": false,
            "grid": true, "gridColor": "black", "gridWidth": 1,
            "gridOpacity": {"condition": {"test": "datum.value < 0.01 || datum.value > 0.79", "value": 0}, "value": 1},
            "domainColor": "#404040", "tickColor": "#404040", "tickSize": 6,
            "labelFontSize": 23, "labelColor": "black", "labelFont": "Liberation Sans", "labelPadding": 12,
            "titleFontSize": 23, "titleFontWeight": "normal", "titleColor": "black", "titleFont": "Liberation Sans", "titlePadding": 13
          }
        },
        "color": {
          "field": "series", "type": "nominal",
          "scale": {"domain": ["121C, 32 wk", "85C, 32 wk", "85C 30% 31wk", "Baseline"], "range": ["#0000FF", "#FF6600", "#FF0000", "#008000"]},
          "legend": {
            "title": null, "orient": "none", "legendX": 73, "legendY": 99,
            "fillColor": "white", "strokeColor": "#404040", "padding": 9,
            "symbolOffset": 18, "labelOffset": 5, "rowPadding": 12,
            "labelFontSize": 17.5, "labelFont": "Liberation Sans", "labelColor": "black",
            "symbolSize": 40, "symbolStrokeWidth": 1.3,
            "labelExpr": "datum.label + '\u2800\u2800'"
          }
        },
        "shape": {
          "field": "series", "type": "nominal",
          "scale": {
            "domain": ["121C, 32 wk", "85C, 32 wk", "85C 30% 31wk", "Baseline"],
            "range": [
              "M0,-0.42L0.42,0L0,0.42L-0.42,0ZM-0.25,0L0.25,0",
              "M-0.85,-0.85L0.85,0.85M-0.85,0.85L0.85,-0.85",
              "M-0.25,-0.25L0.25,-0.25L0.25,0.25L-0.25,0.25Z",
              "M-1,0L1,0M0,-1L0,1"
            ]
          }
        },
        "strokeWidth": {
          "field": "series", "type": "nominal", "legend": null,
          "scale": {"domain": ["121C, 32 wk", "85C, 32 wk", "85C 30% 31wk", "Baseline"], "range": [1.4, 1.3, 1.6, 1.7]}
        }
      }
    },
    {
      "data": {"values": [{}]},
      "mark": {"type": "rule", "color": "#808080", "strokeWidth": 1.5},
      "encoding": {"x": {"datum": 64.65}, "x2": {"datum": 90}, "y": {"datum": 0.8}}
    },
    {
      "data": {"values": [{}]},
      "mark": {"type": "rule", "color": "#808080", "strokeWidth": 1.5},
      "encoding": {"x": {"datum": 0}, "x2": {"datum": 1.58}, "y": {"datum": 0.8}}
    },
    {
      "data": {"values": [{}]},
      "mark": {"type": "rule", "color": "#808080", "strokeWidth": 1.5},
      "encoding": {"x": {"datum": 90}, "y": {"datum": 0}, "y2": {"datum": 0.8}}
    },
    {
      "data": {"values": [{}]},
      "mark": {"type": "rule", "color": "#1a1a1a", "strokeWidth": 1.5},
      "encoding": {"x": {"datum": -15.29}, "y": {"datum": -0.1752}, "y2": {"datum": 0.8433}}
    },
    {
      "data": {"values": [{}]},
      "mark": {"type": "rule", "color": "#1a1a1a", "strokeWidth": 1.5},
      "encoding": {"x": {"datum": -15.29}, "x2": {"datum": 95}, "y": {"datum": -0.1752}}
    },
    {
      "data": {"values": [{}]},
      "mark": {"type": "rule", "color": "#1a1a1a", "strokeWidth": 1.5},
      "encoding": {"x": {"datum": -15.29}, "x2": {"datum": 1.58}, "y": {"datum": 0.8433}}
    },
    {
      "data": {"values": [{}]},
      "mark": {"type": "rule", "color": "#1a1a1a", "strokeWidth": 1.5},
      "encoding": {"x": {"datum": 63.7}, "x2": {"datum": 95}, "y": {"datum": 0.8433}}
    }
  ]
}
